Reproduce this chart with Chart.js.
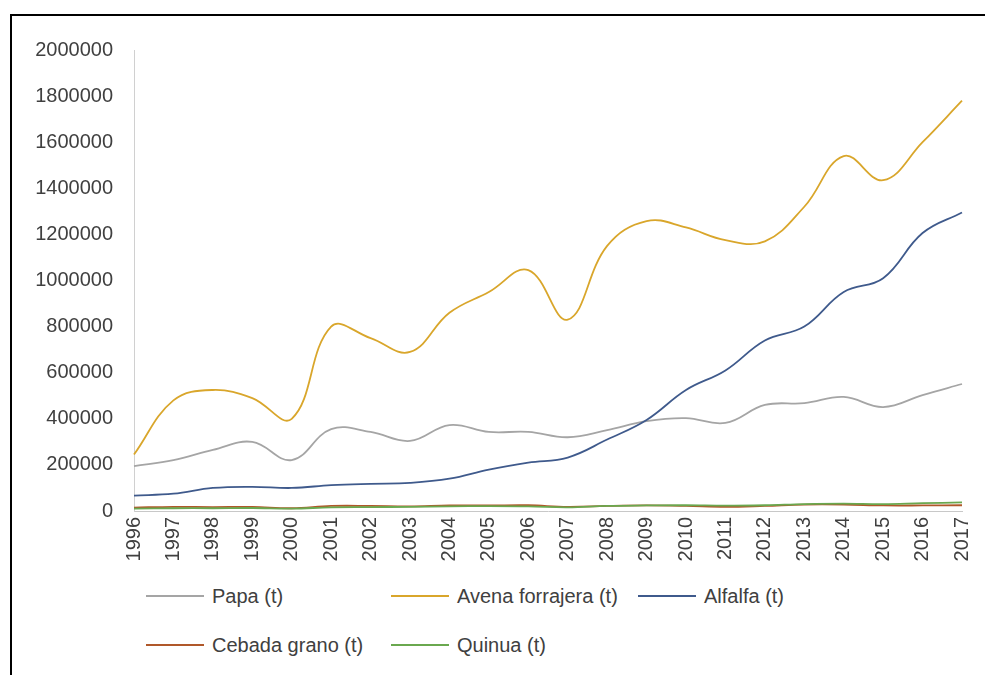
<!DOCTYPE html>
<html>
<head>
<meta charset="utf-8">
<script src="https://cdn.jsdelivr.net/npm/chart.js@4/dist/chart.umd.min.js"></script>
<style>
  html, body { margin: 0; padding: 0; background: #fff; overflow: hidden; }
  #frame {
    position: absolute; left: 10px; top: 14px; width: 1000px; height: 700px;
    border-top: 2px solid #000; border-left: 2px solid #000;
  }
  #wrap { position: absolute; left: 12px; top: 16px; width: 973px; height: 564px; }
  #legend { position: absolute; left: 0; top: 0; font-family: 'Liberation Sans', sans-serif; font-size: 20px; color: #404040; }
  .item { position: absolute; display: flex; align-items: center; white-space: nowrap; height: 24px; }
  .item span.ln { display: inline-block; width: 58px; height: 2px; margin-right: 8px; }
</style>
</head>
<body>
<div id="frame"></div>
<div id="wrap"><canvas id="chart"></canvas></div>
<div id="legend"></div>
<script>
(()=>{
    const years = ['1996','1997','1998','1999','2000','2001','2002','2003','2004','2005','2006',
                   '2007','2008','2009','2010','2011','2012','2013','2014','2015','2016','2017'];

    const papa    = [195000,221000,265000,300000,221000,355000,343000,304000,373000,343000,343000,
                     320000,351000,390000,403000,382000,460000,468000,495000,451000,503000,551000];
    const avena   = [245000,480000,525000,490000,400000,800000,750000,690000,860000,950000,1045000,
                     830000,1150000,1258000,1230000,1175000,1170000,1320000,1540000,1435000,1600000,1780000];
    const alfalfa = [67000,75000,100000,105000,100000,112000,118000,122000,140000,180000,210000,
                     232000,310000,395000,525000,610000,740000,800000,950000,1010000,1206000,1295000];
    const cebada  = [15000,18000,17000,18000,12000,22000,22000,20000,24000,24000,25000,
                     18000,22000,24000,22000,18000,22000,28000,28000,24000,24000,25000];
    const quinua  = [10000,12000,12000,13000,10000,16000,17000,18000,20000,21000,20000,
                     16000,22000,24000,25000,23000,25000,30000,32000,30000,34000,37000];

    const yTicks = [0,200000,400000,600000,800000,1000000,1200000,1400000,1600000,1800000,2000000];

    const series = [
        {label: 'Papa (t)', data: papa, color: '#a5a5a5'},
        {label: 'Avena forrajera (t)', data: avena, color: '#d9a62b'},
        {label: 'Alfalfa (t)', data: alfalfa, color: '#3f5a8c'},
        {label: 'Cebada grano (t)', data: cebada, color: '#b0582a'},
        {label: 'Quinua (t)', data: quinua, color: '#6aa84f'}
    ];

    const font = {family: 'Liberation Sans', size: 20};
    const textColor = '#404040';

    const chart = new Chart(document.getElementById('chart'), {
        type: 'line',
        data: {
            labels: years,
            datasets: series.map((s, i) => ({
                label: s.label,
                data: s.data,
                borderColor: s.color,
                backgroundColor: s.color,
                borderWidth: 1.8,
                pointRadius: 0,
                tension: 0.4,
                order: series.length - i
            }))
        },
        options: {
            responsive: true,
            maintainAspectRatio: false,
            animation: false,
            layout: { padding: { top: 34, right: 23, left: 0, bottom: 0 } },
            plugins: {
                legend: { display: false },
                tooltip: { enabled: false }
            },
            scales: {
                x: {
                    offset: false,
                    grid: { drawOnChartArea: false, drawTicks: false },
                    border: { display: true, color: '#c8c8c8', width: 1 },
                    ticks: {
                        font: font,
                        color: textColor,
                        minRotation: 90,
                        maxRotation: 90,
                        autoSkip: false,
                        padding: 6
                    },
                    afterFit: (scale) => {
                        scale.height = 69;
                        scale.paddingRight = 0;
                        scale.paddingLeft = 0;
                    }
                },
                y: {
                    min: 0,
                    max: 2000000,
                    afterBuildTicks: (scale) => { scale.ticks = yTicks.map(v => ({value: v})); },
                    grid: { drawOnChartArea: false, drawTicks: false },
                    border: { display: true, color: '#d0d0d0', width: 1 },
                    ticks: {
                        font: font,
                        color: textColor,
                        padding: 21,
                        callback: (v) => String(v)
                    },
                    afterFit: (scale) => { scale.width = 122; }
                }
            }
        }
    });

    // legend laid out like the original: fixed columns, two rows
    const legend = document.getElementById('legend');
    const spots = [[146, 584], [391, 584], [638, 584], [146, 633], [391, 633]];
    chart.data.datasets.forEach((ds, i) => {
        const el = document.createElement('div');
        el.className = 'item';
        el.style.left = spots[i][0] + 'px';
        el.style.top = spots[i][1] + 'px';
        el.innerHTML = '<span class="ln" style="background:' + ds.borderColor + '"></span>' + ds.label;
        legend.appendChild(el);
    });
})()
</script>
</body>
</html>
